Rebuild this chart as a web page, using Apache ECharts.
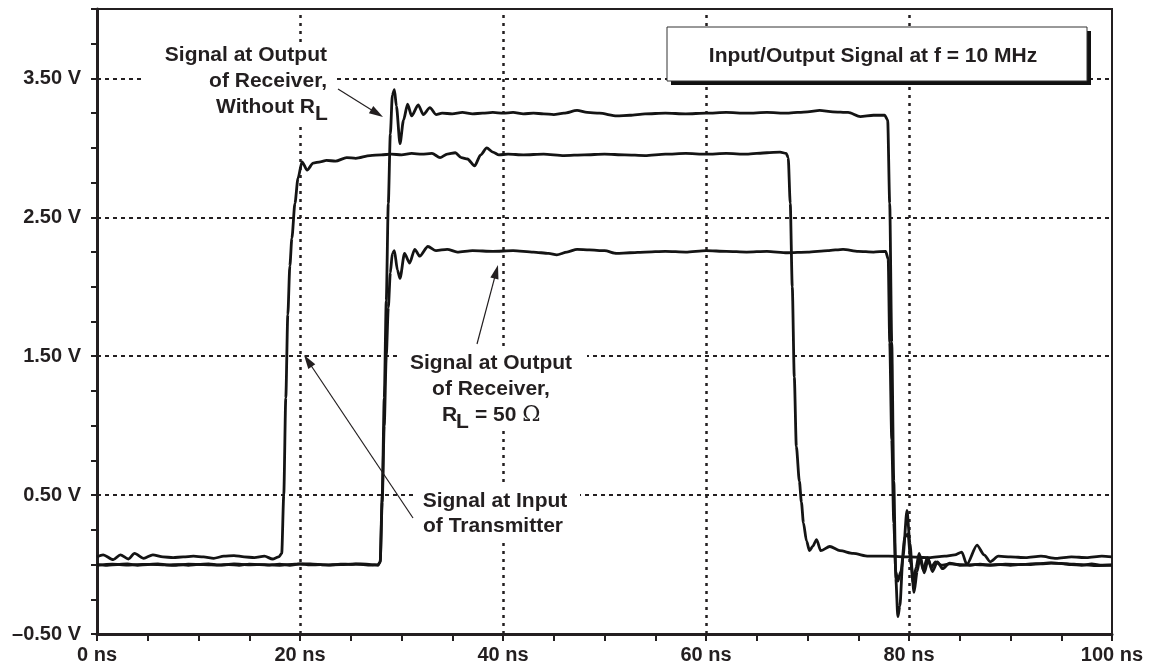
<!DOCTYPE html>
<html>
<head>
<meta charset="utf-8">
<script src="https://cdn.jsdelivr.net/npm/echarts@6/dist/echarts.min.js"></script>
<style>
html,body{margin:0;padding:0;background:#fff;}
#chart{width:1153px;height:671px;}
</style>
</head>
<body>
<div id="chart"></div>
<script>
// ---- Data (time in ns, voltage in V) ----
const inputT = [0,0.6,1.6,2.3,3.1,3.7,4.6,5.5,6.5,7.5,8.5,9.5,10.5,11.5,12.5,13.5,14.5,15.5,16.5,17.3,17.9,18.2,18.4,18.6,18.8,19.0,19.2,19.5,19.8,20.2,20.7,21.3,22.0,22.6,23.5,24.6,25.5,26.9,28,29,30,31,32,33,33.8,34.5,35.3,35.9,36.5,37.2,37.8,38.4,39.0,39.6,40.5,42,44,46,48,50,52,54,56,58,60,62,64,66,67.3,67.9,68.1,68.3,68.5,68.7,68.9,69.2,69.4,69.6,69.9,70.2,70.5,70.9,71.3,72.2,73.2,74.5,76,78,80,82,83.5,84.5,85.2,85.7,86.7,87.4,88,88.8,90,91.5,93,94.5,96,97.5,99,100];
const inputV = [0.055,0.07,0.035,0.07,0.04,0.08,0.045,0.07,0.055,0.05,0.055,0.06,0.055,0.045,0.06,0.065,0.055,0.05,0.06,0.04,0.055,0.08,0.5,1.2,1.8,2.15,2.35,2.6,2.78,2.9,2.84,2.89,2.9,2.91,2.905,2.93,2.925,2.945,2.95,2.955,2.95,2.96,2.955,2.96,2.93,2.955,2.965,2.93,2.92,2.87,2.95,3.0,2.97,2.95,2.955,2.95,2.955,2.945,2.95,2.955,2.95,2.945,2.955,2.96,2.955,2.96,2.955,2.965,2.97,2.96,2.93,2.6,2.0,1.35,0.85,0.6,0.45,0.3,0.17,0.1,0.13,0.18,0.1,0.13,0.1,0.08,0.06,0.06,0.055,0.05,0.06,0.07,0.09,0.0,0.14,0.07,0.02,0.06,0.055,0.05,0.06,0.045,0.055,0.05,0.06,0.055];

const rxOpenT = [0,1,2,3,4,5,6,7,8,9,10,11,12,13,14,15,16,17,18,19,20,21,22,23,24,25,26,27,27.7,27.9,28.1,28.3,28.5,28.7,28.9,29.1,29.3,29.5,29.85,30.2,30.6,31.0,31.65,32.15,32.8,33.4,34.0,35,36,37,38,39,40,41,42,43,44,45,46,47.3,48.3,49.5,51.2,52.5,54,56,58,60,62,64,66,68,70,71.2,72.5,74,75.2,76.5,77.6,77.9,78.1,78.3,78.5,78.7,78.9,79.1,79.4,79.8,80.1,80.4,80.7,81.0,81.4,81.8,82.2,82.6,83.2,84,85,86,87,88,89,90,91,92,93,94,95,96,97,98,99,100];
const rxOpenV = [0.0,-0.005,0.0,0.005,-0.005,0.0,0.005,-0.003,0.0,-0.005,0.002,0.005,-0.003,0.0,-0.005,0.003,0.0,-0.004,0.003,-0.005,0.005,-0.003,0.0,-0.004,0.003,0.002,0.005,0.0,-0.005,0.02,0.5,1.2,1.9,2.6,3.1,3.38,3.42,3.3,3.03,3.2,3.315,3.23,3.31,3.24,3.29,3.24,3.25,3.245,3.255,3.245,3.25,3.255,3.25,3.255,3.245,3.25,3.245,3.24,3.25,3.27,3.255,3.25,3.23,3.235,3.245,3.25,3.245,3.25,3.255,3.25,3.255,3.25,3.26,3.27,3.26,3.255,3.225,3.235,3.235,3.2,2.6,1.6,0.6,-0.1,-0.375,-0.3,0.05,0.39,0.15,-0.13,-0.02,0.08,-0.04,0.05,-0.02,0.02,-0.005,0.005,0.0,-0.005,0.003,-0.003,0.0,-0.005,0.002,0.0,0.005,0.01,0.008,0.0,-0.005,0.005,-0.005,-0.005];

const rxLoadT = [0,1.5,3,4.5,6,7.5,9,10.5,12,13.5,15,16.5,18,19.5,21,22.5,24,25.5,27,27.7,27.9,28.1,28.3,28.5,28.7,28.9,29.1,29.3,29.6,29.85,30.3,30.8,31.3,31.8,32.6,33.4,34.5,35.5,37,39,41,43,44.5,45.3,46.3,47.3,48.5,50,51.2,52.5,54,56,58,60,62,64,66,68,70,72,73.5,75,76.5,77.7,77.95,78.1,78.3,78.5,78.7,78.9,79.2,79.6,79.9,80.2,80.5,80.8,81.1,81.5,81.9,82.3,82.8,83.3,84,85,86.5,88,89.5,91,92.5,94,95.5,97,98.5,100];
const rxLoadV = [-0.005,0.003,-0.004,0.002,0.0,-0.006,0.003,0.0,-0.004,0.004,-0.002,0.0,-0.005,0.003,0.005,-0.003,0.0,0.004,-0.004,0.0,0.02,0.45,1.0,1.5,1.85,2.1,2.24,2.26,2.12,2.06,2.24,2.17,2.27,2.22,2.29,2.26,2.27,2.25,2.26,2.255,2.26,2.25,2.24,2.23,2.25,2.27,2.265,2.26,2.24,2.245,2.25,2.255,2.25,2.26,2.255,2.25,2.255,2.245,2.25,2.26,2.27,2.255,2.25,2.255,2.2,1.6,0.9,0.3,-0.05,-0.12,-0.05,0.2,0.22,0.0,-0.2,-0.05,0.06,-0.06,0.04,-0.05,0.02,-0.03,0.01,-0.005,0.0,-0.005,0.003,0.0,0.006,0.012,0.005,0.0,-0.008,-0.003];

const xGridValues = [20, 40, 60, 80];
const yGridValues = [0.5, 1.5, 2.5, 3.5];
const yLabelValues = [-0.5, 0.5, 1.5, 2.5, 3.5];
const xLabelValues = [0, 20, 40, 60, 80, 100];

// ---- Styles ----
const INK = '#231f20';
const TRACE = '#141414';
const FONT = '"Liberation Sans", Arial, Helvetica, sans-serif';

function pairs(t, v) { return t.map((x, i) => [x, v[i]]); }
function near(list, v) { return list.some(a => Math.abs(a - v) < 1e-6); }

function traceSeries(name, t, v) {
  return {
    name, type: 'line', data: pairs(t, v), showSymbol: false, symbol: 'none',
    smooth: 0.25, smoothMonotone: 'x',
    lineStyle: { color: TRACE, width: 2.8 }, z: 5, silent: true
  };
}

function arrow(x1, y1, x2, y2) {
  const dx = x2 - x1, dy = y2 - y1, len = Math.hypot(dx, dy);
  const ux = dx / len, uy = dy / len;
  const hl = 14, hw = 4.2;
  const bx = x2 - ux * hl, by = y2 - uy * hl;
  return [
    { type: 'line', z: 100, shape: { x1, y1, x2: bx + ux * 2, y2: by + uy * 2 }, style: { stroke: INK, lineWidth: 1.2 } },
    { type: 'polygon', z: 100, shape: { points: [[x2, y2], [bx - uy * hw, by + ux * hw], [bx + uy * hw, by - ux * hw]] }, style: { fill: INK } }
  ];
}

function txt(x, y, text, align, size) {
  return { type: 'text', z: 100, x, y, style: { text, fill: INK, font: 'bold ' + (size || 21) + 'px ' + FONT, align: align || 'center', verticalAlign: 'middle' } };
}

const gridMarks = [];
xGridValues.forEach(v => gridMarks.push({ xAxis: v, lineStyle: { type: [3, 5], width: 2.5, color: INK } }));
yGridValues.forEach(v => gridMarks.push({ yAxis: v, lineStyle: { type: [4, 4], width: 2, color: INK } }));

const chart = echarts.init(document.getElementById('chart'), null, { renderer: 'canvas' });
chart.setOption({
  animation: false,
  backgroundColor: '#fff',
  grid: { left: 97, right: 41, top: 9, bottom: 37, containLabel: false, show: true, borderColor: INK, borderWidth: 2, backgroundColor: 'transparent' },
  xAxis: {
    type: 'value', min: 0, max: 100, interval: 5,
    axisLine: { show: true, onZero: false, lineStyle: { color: INK, width: 3 } },
    axisTick: { show: true, inside: false, length: 7, lineStyle: { color: INK, width: 2 } },
    splitLine: { show: false },
    axisLabel: {
      margin: 11, color: INK, fontSize: 20, fontWeight: 'bold', fontFamily: FONT,
      formatter: v => near(xLabelValues, v) ? (Math.round(v) + ' ns') : ''
    }
  },
  yAxis: {
    type: 'value', min: -0.5, max: 4.0, interval: 0.25,
    axisLine: { show: true, onZero: false, lineStyle: { color: INK, width: 3 } },
    axisTick: { show: true, inside: false, length: 6, lineStyle: { color: INK, width: 2 } },
    splitLine: { show: false },
    axisLabel: {
      margin: 16, color: INK, fontSize: 20, fontWeight: 'bold', fontFamily: FONT,
      formatter: v => near(yLabelValues, v) ? ((v < 0 ? '\u2013' : '') + Math.abs(v).toFixed(2) + ' V') : ''
    }
  },
  series: [
    { name: 'grid', type: 'line', data: [], z: 1, silent: true,
      markLine: { silent: true, symbol: ['none', 'none'], label: { show: false }, animation: false, data: gridMarks } },
    traceSeries('Signal at Input of Transmitter', inputT, inputV),
    traceSeries('Signal at Output of Receiver, Without RL', rxOpenT, rxOpenV),
    traceSeries('Signal at Output of Receiver, RL = 50 Ω', rxLoadT, rxLoadV)
  ],
  graphic: [
    // white backgrounds of annotation blocks
    { type: 'rect', z: 90, shape: { x: 143, y: 44, width: 194, height: 80 }, style: { fill: '#fff' } },
    { type: 'rect', z: 90, shape: { x: 400, y: 348, width: 187, height: 82 }, style: { fill: '#fff' } },
    { type: 'rect', z: 90, shape: { x: 413, y: 484, width: 167, height: 57 }, style: { fill: '#fff' } },
    // title box with shadow
    { type: 'rect', z: 95, shape: { x: 671, y: 31, width: 420, height: 54 }, style: { fill: '#111' } },
    { type: 'rect', z: 96, shape: { x: 667, y: 27, width: 420, height: 54 }, style: { fill: '#fff', stroke: '#333', lineWidth: 1 } },
    txt(873, 56, 'Input/Output Signal at f = 10 MHz', 'center', 21),
    // annotation 1
    txt(327, 55, 'Signal at Output', 'right'),
    txt(327, 81, 'of Receiver,', 'right'),
    txt(315, 107, 'Without R', 'right'),
    txt(315, 114, 'L', 'left'),
    // annotation 2
    txt(491, 363, 'Signal at Output'),
    txt(491, 389, 'of Receiver,'),
    txt(442, 415, 'R', 'left'),
    txt(456, 422, 'L', 'left'),
    { type: 'text', z: 100, x: 475, y: 415, style: { text: '{a|= 50 }{o|\u03A9}', fill: INK, align: 'left', verticalAlign: 'middle',
      rich: { a: { font: 'bold 21px ' + FONT, fill: INK }, o: { font: '22px "DejaVu Serif", "Liberation Serif", serif', fill: INK } } } },
    // annotation 3
    txt(495, 501, 'Signal at Input'),
    txt(493, 526, 'of Transmitter'),
    // arrows
    ...arrow(338, 89, 383, 117),
    ...arrow(477, 344, 498, 265),
    ...arrow(413, 518, 304, 355)
  ]
});
</script>
</body>
</html>
